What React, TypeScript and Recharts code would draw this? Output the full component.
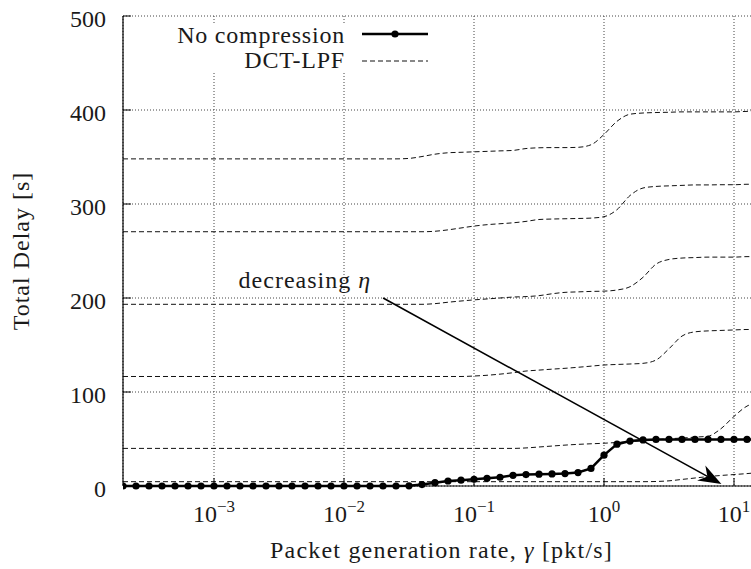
import { LineChart, Line, XAxis, YAxis, CartesianGrid, ReferenceLine } from 'recharts'

const FONT = '"Liberation Serif", "Times New Roman", serif'
const PLOT_LEFT = 123
const INK = '#1a1a1a'

// log10 of the packet generation rate, one sample per 0.1 decade
const exponents = [
  -3.7, -3.6, -3.5, -3.4, -3.3, -3.2, -3.1, -3.0, -2.9, -2.8,
  -2.7, -2.6, -2.5, -2.4, -2.3, -2.2, -2.1, -2.0, -1.9, -1.8,
  -1.7, -1.6, -1.5, -1.4, -1.3, -1.2, -1.1, -1.0, -0.9, -0.8,
  -0.7, -0.6, -0.5, -0.4, -0.3, -0.2, -0.1, 0.0, 0.1, 0.2,
  0.3, 0.4, 0.5, 0.6, 0.7, 0.8, 0.9, 1.0, 1.1, 1.2,
]

const noCompression = [
  0, 0, 0, 0, 0, 0, 0, 0, 0, 0,
  0, 0, 0, 0, 0, 0, 0, 0, 0, 0,
  0, 0, 0.2, 1.5, 3.5, 5.3, 6.2, 7.2, 8.2, 9.3,
  11.4, 12.2, 12.6, 12.8, 13.2, 14.3, 18.7, 32.8, 44.5, 47.8,
  49.0, 49.5, 49.5, 49.5, 49.5, 49.5, 49.5, 49.5, 49.5, 49.5,
]

const dct1 = [
  348, 348, 348, 348, 348, 348, 348, 348, 348, 348,
  348, 348, 348, 348, 348, 348, 348, 348, 348, 348,
  348, 348, 348.5, 350.5, 353, 354.5, 355, 355.5, 356, 356.5,
  357, 359, 359.8, 360, 360, 360.3, 363, 374, 388, 395.5,
  396.8, 397.3, 397.6, 398, 398, 398, 398, 398, 398.5, 398.5,
]

const dct2 = [
  270.5, 270.5, 270.5, 270.5, 270.5, 270.5, 270.5, 270.5, 270.5, 270.5,
  270.5, 270.5, 270.5, 270.5, 270.5, 270.5, 270.5, 270.5, 270.5, 270.5,
  270.5, 270.5, 270.5, 270.5, 271, 272.5, 274.5, 276.5, 278, 279,
  280, 281.5, 283.5, 284, 284.3, 284.6, 285, 286.5, 294, 309,
  317, 318.7, 319.3, 319.8, 320.3, 320.3, 320.5, 320.5, 321, 321,
]

const dct3 = [
  193.3, 193.3, 193.3, 193.3, 193.3, 193.3, 193.3, 193.3, 193.3, 193.3,
  193.3, 193.3, 193.3, 193.3, 193.3, 193.3, 193.3, 193.3, 193.3, 193.3,
  193.3, 193.3, 193.3, 193.3, 194, 195.5, 196.8, 198, 199, 200,
  201, 201.5, 202.5, 204.5, 206, 206.5, 207, 207.3, 208.5, 212,
  222, 236, 241, 242.5, 243, 243.5, 243.5, 243.5, 244, 244,
]

const dct4 = [
  116.5, 116.5, 116.5, 116.5, 116.5, 116.5, 116.5, 116.5, 116.5, 116.5,
  116.5, 116.5, 116.5, 116.5, 116.5, 116.5, 116.5, 116.5, 116.5, 116.5,
  116.5, 116.5, 116.5, 116.5, 116.5, 116.5, 116.5, 117, 117.8, 119,
  120.5, 122.3, 123.3, 124.3, 125.2, 126.3, 127.5, 128.7, 129.3, 129.8,
  130.5, 134, 146, 159.5, 164, 165, 165.5, 166, 166.5, 166.5,
]

const dct5 = [
  40, 40, 40, 40, 40, 40, 40, 40, 40, 40,
  40, 40, 40, 40, 40, 40, 40, 40, 40, 40,
  40, 40, 40, 40, 40, 40, 40, 40, 40, 40,
  40, 40.5, 41.5, 42.5, 43.5, 44.3, 44.9, 45.5, 46.3, 47.3,
  48.2, 49.2, 50.3, 51, 52, 53, 61, 74, 85, 89,
]

const dct6 = [
  4.6, 4.6, 4.6, 4.6, 4.6, 4.6, 4.6, 4.6, 4.6, 4.6,
  4.6, 4.6, 4.6, 4.6, 4.6, 4.6, 4.6, 4.6, 4.6, 4.6,
  4.6, 4.6, 4.6, 4.6, 4.6, 4.6, 4.6, 4.6, 4.6, 4.6,
  4.6, 4.6, 4.6, 4.6, 4.6, 4.6, 4.6, 4.6, 4.6, 4.6,
  4.6, 4.8, 5.5, 7, 8.5, 10, 11.2, 12.2, 13.2, 14.5,
]

const dctSeries = [dct1, dct2, dct3, dct4, dct5, dct6]

const xTicks = [0.001, 0.01, 0.1, 1, 10]
const xTickPowers = ['\u22123', '\u22122', '\u22121', '0', '1']
const yTicks = [0, 100, 200, 300, 400, 500]

// arrow "decreasing eta": [gamma, delay]
const arrowStart = { x: 0.02, y: 200 }
const arrowEnd = { x: 8, y: 2 }

const data = exponents.map((e, i) => {
  const row: any = { g: Math.pow(10, e), nc: noCompression[i] }
  dctSeries.forEach((s, k) => { row['d' + k] = s[i] })
  return row
})

const xDomain = [Math.pow(10, -3.7), Math.pow(10, 1.2)]

function XTick({ x, y, payload }: any) {
  const p = xTickPowers[xTicks.indexOf(payload.value)]
  return (
    <g>
      <line x1={x} x2={x} y1={y} y2={y - 8} stroke="#000" />
      <text x={x} y={y + 36} textAnchor="middle" fontFamily={FONT} fontSize={24} fill={INK}>
        10<tspan dy={-10} fontSize={17}>{p}</tspan>
      </text>
    </g>
  )
}

function TopTick({ x, y }: any) {
  return <line x1={x} x2={x} y1={y} y2={y + 8} stroke="#000" />
}

function YTick({ y, payload }: any) {
  return (
    <g>
      <line x1={PLOT_LEFT} x2={PLOT_LEFT + 8} y1={y} y2={y} stroke="#000" />
      <text x={PLOT_LEFT - 17} y={y + 11} textAnchor="end" fontFamily={FONT} fontSize={24} fill={INK}>
        {payload.value}
      </text>
    </g>
  )
}

function ArrowShape(props: any) {
  const { x1, y1, x2, y2 } = props
  const dx = x2 - x1
  const dy = y2 - y1
  const len = Math.hypot(dx, dy) || 1
  const ux = dx / len
  const uy = dy / len
  const px = -uy
  const py = ux
  const L = 23, W = 8.5, back = 16
  const bx = x2 - ux * L
  const by = y2 - uy * L
  const head = `M${x2},${y2} L${bx + px * W},${by + py * W} L${x2 - ux * back},${y2 - uy * back} L${bx - px * W},${by - py * W} Z`
  return (
    <g>
      <line x1={x1} y1={y1} x2={x2 - ux * back} y2={y2 - uy * back} stroke="#000" strokeWidth={1.6} />
      <path d={head} fill="#000" />
      <text x={x1 - 12} y={y1 - 10} textAnchor="end" fontFamily={FONT} fontSize={24} letterSpacing={1} fill={INK}>
        decreasing <tspan fontStyle="italic">η</tspan>
      </text>
    </g>
  )
}

function XLabel({ viewBox }: any) {
  return (
    <text x={viewBox.x + viewBox.width / 2} y={viewBox.y + 72} textAnchor="middle" fontFamily={FONT} fontSize={24} letterSpacing={1.2} fill={INK}>
      Packet generation rate, <tspan fontStyle="italic">γ</tspan> [pkt/s]
    </text>
  )
}

function YLabel({ viewBox }: any) {
  const cy = viewBox.y + viewBox.height / 2
  return (
    <text x={29} y={cy} transform={`rotate(-90, 29, ${cy})`} textAnchor="middle" fontFamily={FONT} fontSize={24} letterSpacing={1} fill={INK}>
      Total Delay [s]
    </text>
  )
}

function LegendBox() {
  return (
    <svg width={751} height={90} style={{ position: 'absolute', left: 0, top: 0, pointerEvents: 'none' }}>
      <rect x={168} y={24} width={268} height={48} fill="#fff" />
      <text x={345} y={43} textAnchor="end" fontFamily={FONT} fontSize={24} letterSpacing={0.8} fill={INK}>No compression</text>
      <line x1={362} x2={428} y1={34} y2={34} stroke="#000" strokeWidth={2.5} />
      <circle cx={395} cy={34} r={3.6} fill="#000" />
      <text x={345} y={68} textAnchor="end" fontFamily={FONT} fontSize={24} letterSpacing={0.8} fill={INK}>DCT-LPF</text>
      <line x1={362} x2={428} y1={61} y2={61} stroke="#111" strokeDasharray="5 3" />
    </svg>
  )
}

export default function App() {
  return (
    <div style={{ position: 'fixed', left: 0, top: 0, width: 751, height: 569, overflow: 'hidden', background: '#fff' }}>
      <div style={{ position: 'relative', width: 780, height: 569 }}>
        <LineChart width={780} height={569} data={data} margin={{ top: 16, right: 20, left: 0, bottom: 0 }}>
          <CartesianGrid stroke="#444" strokeDasharray="1 2" />
          <XAxis
            dataKey="g"
            type="number"
            scale="log"
            domain={xDomain}
            allowDataOverflow
            ticks={xTicks}
            interval={0}
            height={83}
            tickSize={0}
            tickMargin={0}
            tickLine={false}
            axisLine={{ stroke: '#000', strokeWidth: 1.2 }}
            tick={<XTick />}
            label={<XLabel />}
          />
          <XAxis
            xAxisId="top"
            orientation="top"
            dataKey="g"
            type="number"
            scale="log"
            domain={xDomain}
            allowDataOverflow
            ticks={xTicks}
            interval={0}
            height={0}
            tickSize={0}
            tickMargin={0}
            tickLine={false}
            axisLine={{ stroke: '#000', strokeWidth: 1.2 }}
            tick={<TopTick />}
          />
          <YAxis
            type="number"
            domain={[0, 500]}
            ticks={yTicks}
            interval={0}
            width={PLOT_LEFT}
            tickSize={0}
            tickMargin={16}
            tickLine={false}
            axisLine={{ stroke: '#000', strokeWidth: 1.2 }}
            tick={<YTick />}
            label={<YLabel />}
          />
          {dctSeries.map((_, k) => (
            <Line
              key={k}
              type="monotone"
              dataKey={'d' + k}
              stroke="#111"
              strokeWidth={1}
              strokeDasharray="5 3"
              dot={false}
              activeDot={false}
              isAnimationActive={false}
            />
          ))}
          <Line
            type="linear"
            dataKey="nc"
            stroke="#000"
            strokeWidth={2.5}
            dot={{ r: 3.6, fill: '#000', stroke: 'none' }}
            activeDot={false}
            isAnimationActive={false}
          />
          <ReferenceLine segment={[arrowStart, arrowEnd]} ifOverflow="visible" shape={ArrowShape} />
        </LineChart>
        <LegendBox />
      </div>
    </div>
  )
}
